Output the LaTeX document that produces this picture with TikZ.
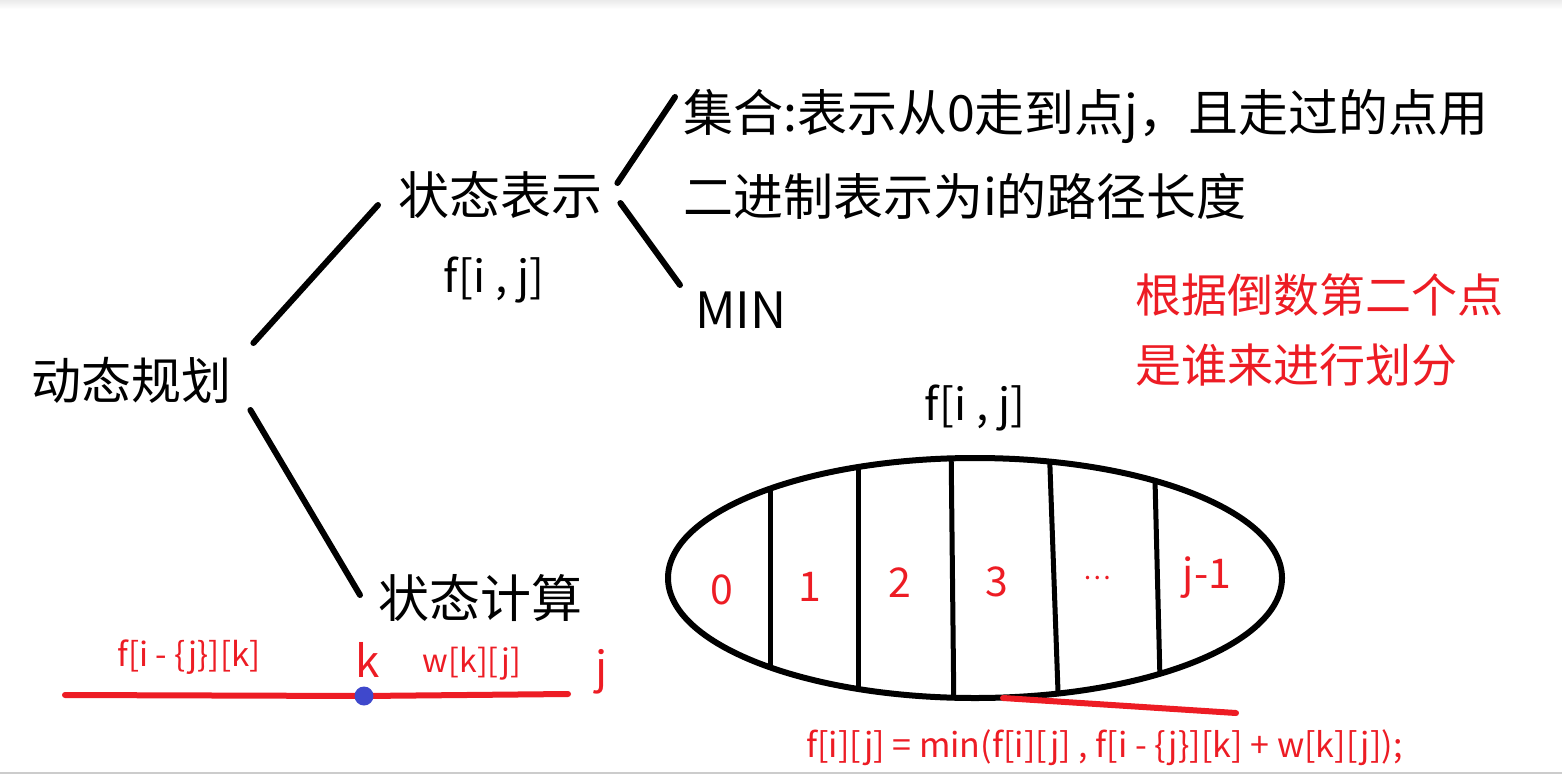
\documentclass[tikz,border=0pt]{standalone}
\usepackage{fontspec}
\setmainfont{Noto Sans CJK SC}
\usetikzlibrary{calc,positioning,shapes.geometric}
\definecolor{pen}{RGB}{237,28,36}
\definecolor{ink}{RGB}{63,72,204}
\newcommand{\fsz}[1]{\fontsize{#1}{#1}\selectfont}
\tikzset{
	branch/.style={line width=6pt, line cap=round},
	txt/.style={inner sep=0pt, anchor=west},
	redtxt/.style={inner sep=0pt, text=pen},
	redline/.style={draw=pen, line width=6pt, line cap=round},
	divider/.style={line width=5pt},
}

\begin{document}
\begin{tikzpicture}[x=1pt, y=-1pt]
		\useasboundingbox (0,0) rectangle (1562,776);
		\fill[white] (0,0) rectangle (1562,776);
		\shade[top color=black!8, bottom color=white] (0,0) rectangle (1562,9);
		\draw[black!20, line width=2pt] (0,773) -- (1562,773);
		% tree
		\node[txt, font=\fsz{50}] (dp) at (31,380) {动态规划};
		\node[txt, font=\fsz{51}] (repr) at (398,195) {状态表示};
		\node[inner sep=0pt, font=\fsz{44}] (fij) at (494,280) {f[i , j]};
		\node[txt, font=\fsz{51}] (comp) at (378,598) {状态计算};
		\node[txt, align=left, font=\fontsize{50}{84}\selectfont] (set) at (683,154) {集合:表示从0走到点j，且走过的点用\\二进制表示为i的路径长度};
		\node[txt, font=\fsz{50}] (min) at (695,310) {MIN};
		\node[txt, redtxt, align=left, font=\fontsize{46}{70}\selectfont] (note) at (1135,330) {根据倒数第二个点\\是谁来进行划分};
		\draw[branch] ($(dp.east)+(22,-37)$) -- ($(repr.west)+(-20,10)$);
		\draw[branch] ($(dp.east)+(19,30)$) -- ($(comp.west)+(-18,-3)$);
		\draw[branch] ($(repr.east)+(15,-12)$) -- ($(set.west)+(-8,-57)$);
		\draw[branch] ($(repr.east)+(18,8)$) -- ($(min.west)+(-15,-25)$);
		% split of f[i , j]
		\node[draw, ellipse, line width=6pt, minimum width=614pt, minimum height=240pt, inner sep=0pt] (part) at (975,578) {};
		\node[inner sep=0pt, font=\fsz{44}, above=24pt of part] (fij2) {f[i , j]};
		\begin{scope}
			\clip (975,578) ellipse [x radius=307, y radius=120];
			\foreach \a/\b in {770/770, 858/858, 951/954, 1049/1059, 1154/1161}
				\draw[divider] (\a,440) -- (\b,720);
		\end{scope}
		\foreach \x/\y/\t [count=\i] in {722/590/0, 810/587/1, 900/583/2, 997/582/3, 1097/578/{\fsz{26}…}, 1207/578/j-1}
			\node[redtxt, font=\fsz{41}] (c\i) at (\x,\y) {\t};
		\coordinate (tail) at (1236,713);
		\draw[redline] ($(part.south)+(28,-3)$) -- (tail);
		\node[redtxt, anchor=west, font=\fsz{34}] (eq) at (806,748) {f[i][j] = min(f[i][j] , f[i - \{j\}][k] + w[k][j]);};
		% last point k
		\coordinate (a) at (65,695);
		\coordinate (kp) at (364,696);
		\coordinate (b) at (568,694);
		\draw[redline] (a) -- (kp) -- (b);
		\node[circle, fill=ink, inner sep=0pt, minimum size=19pt] (k) at (kp) {};
		\node[redtxt, font=\fsz{33}] (fprev) at (189,657) {f[i - \{j\}][k]};
		\node[redtxt, font=\fsz{44}] (klab) at (368,660) {k};
		\node[redtxt, font=\fsz{32}] (wkj) at (472,664) {w[k][j]};
		\node[redtxt, font=\fsz{44}] (jlab) at (602,672) {j};
\end{tikzpicture}
\end{document}
